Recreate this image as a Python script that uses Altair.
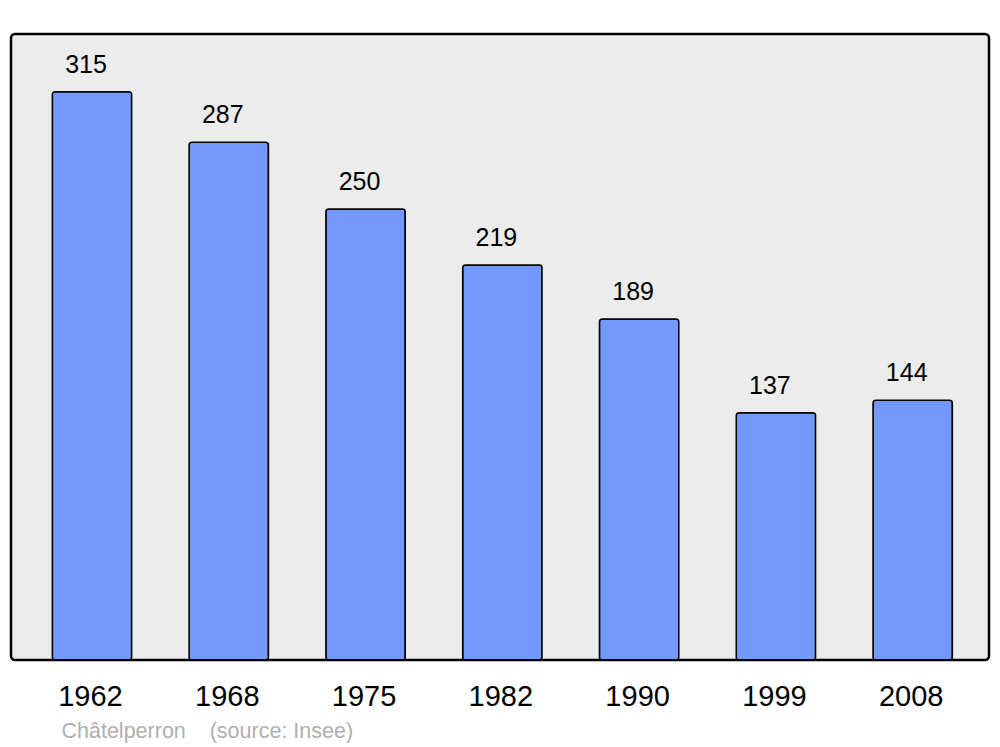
import altair as alt
import pandas as pd

years = ["1962", "1968", "1975", "1982", "1990", "1999", "2008"]
population = [315, 287, 250, 219, 189, 137, 144]
footer = "Châtelperron\u00a0\u00a0\u00a0\u00a0(source: Insee)"

df = pd.DataFrame({"year": years, "pop": population})

FONT = "Liberation Sans"

x = alt.X(
    "year:N",
    sort=years,
    scale=alt.Scale(paddingInner=0.42, paddingOuter=0.285, align=0.53),
    axis=alt.Axis(
        title=footer,
        labelAngle=0,
        labelFontSize=29,
        labelFont=FONT,
        labelColor="black",
        labelPadding=22,
        labelOffset=-1.5,
        labelBaseline="top",
        domain=False,
        ticks=False,
        titleFont=FONT,
        titleFontSize=21.5,
        titleFontWeight="normal",
        titleColor="#b0b0b0",
        titleAnchor="start",
        titleAlign="left",
        titleBaseline="alphabetic",
        titleX=50,
        titleY=77,
    ),
)
y = alt.Y(
    "pop:Q",
    scale=alt.Scale(domain=[0, 347], nice=False),
    axis=None,
)

bars = alt.Chart(df).mark_bar(
    color="#7399ff", stroke="black", strokeWidth=1.5, cornerRadius=3
).encode(x=x, y=y)

labels = alt.Chart(df).mark_text(
    font=FONT, fontSize=25, color="black", dx=-6, dy=-19, baseline="alphabetic"
).encode(x=x, y=y, text="pop:Q")

chart = (
    alt.layer(bars, labels)
    .properties(
        width=978,
        height=626,
        padding={"left": 3, "top": 26, "right": 3, "bottom": 86},
        autosize=alt.AutoSizeParams(type="none"),
        background="white",
    )
    .configure_view(
        fill="#ececec", stroke="black", strokeWidth=2.5, cornerRadius=4
    )
)

chart.save("out.html", embed_options={"renderer": "svg", "actions": False})
